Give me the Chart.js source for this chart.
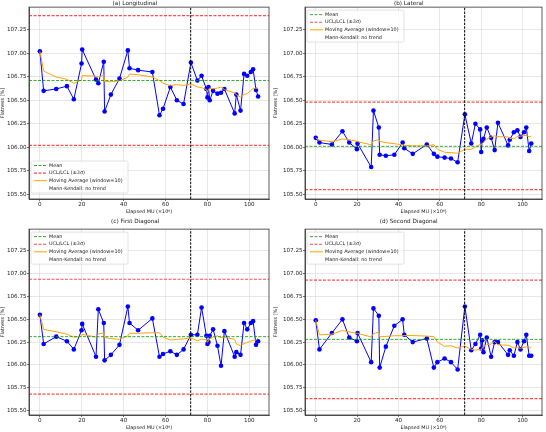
<!DOCTYPE html>
<html>
<head>
<meta charset="utf-8">
<script src="https://cdn.jsdelivr.net/npm/chart.js@4.4.0/dist/chart.umd.min.js"></script>
<style>
    html, body { margin: 0; padding: 0; background: #fff; }
    #fig { position: relative; width: 546px; height: 432px; }
    .panel { position: absolute; width: 273px; height: 216px; }
</style>
</head>
<body>
<div id="fig">
    <div class="panel" style="left:0;top:0"><canvas id="chart-a" width="273" height="216"></canvas></div>
    <div class="panel" style="left:273px;top:0"><canvas id="chart-b" width="273" height="216"></canvas></div>
    <div class="panel" style="left:0;top:216px"><canvas id="chart-c" width="273" height="216"></canvas></div>
    <div class="panel" style="left:273px;top:216px"><canvas id="chart-d" width="273" height="216"></canvas></div>
</div>
<script>
// measurement positions (shared by all four directions)
const elapsedMU = [0, 1.8, 7.8, 12.9, 16.2, 19.9, 20.2, 26.8, 27.9, 30.5,
    30.9, 33.9, 38.0, 42.0, 42.8, 46.9, 53.7, 57.1, 58.8, 62.3,
    65.4, 68.6, 72.1, 75.2, 77.2, 79.5, 80.0, 80.5, 81.1, 82.7,
    84.8, 86.5, 88.1, 93.0, 93.8, 95.8, 97.5, 99.0, 100.7, 101.8,
    103.2, 104.2];

const longitudinal = [107.02, 106.60, 106.62, 106.65, 106.51, 106.89, 107.04, 106.72, 106.68, 106.91,
    106.38, 106.56, 106.73, 107.03, 106.84, 106.82, 106.80, 106.34, 106.41, 106.64,
    106.50, 106.46, 106.90, 106.71, 106.76, 106.62, 106.53, 106.64, 106.50, 106.60,
    106.57, 106.58, 106.62, 106.36, 106.56, 106.39, 106.78, 106.76, 106.80, 106.83,
    106.61, 106.54];
const lateral = [106.10, 106.05, 106.03, 106.17, 106.05, 105.98, 106.04, 105.79, 106.39, 106.21,
    105.92, 105.91, 105.92, 106.05, 105.99, 105.93, 106.03, 105.93, 105.90, 105.89,
    105.88, 105.84, 106.35, 106.04, 106.25, 106.19, 105.95, 106.07, 106.09, 106.21,
    106.10, 105.97, 106.26, 106.02, 106.08, 106.16, 106.18, 106.11, 106.16, 106.21,
    105.96, 106.04];
const firstDiagonal = [106.55, 106.23, 106.31, 106.26, 106.17, 106.38, 106.45, 106.09, 106.61, 106.46,
    106.05, 106.11, 106.22, 106.64, 106.46, 106.38, 106.51, 106.09, 106.12, 106.15,
    106.11, 106.17, 106.33, 106.33, 106.63, 106.32, 106.23, 106.25, 106.32, 106.39,
    106.21, 105.99, 106.37, 106.09, 106.14, 106.11, 106.46, 106.39, 106.46, 106.48,
    106.22, 106.26];
const secondDiagonal = [106.49, 106.17, 106.35, 106.50, 106.30, 106.26, 106.35, 106.03, 106.62, 106.54,
    105.97, 106.20, 106.43, 106.50, 106.33, 106.25, 106.29, 105.97, 106.03, 106.07,
    106.03, 105.95, 106.64, 106.16, 106.23, 106.33, 106.18, 106.27, 106.14, 106.30,
    106.09, 106.25, 106.25, 106.11, 106.16, 106.10, 106.25, 106.17, 106.26, 106.33,
    106.10, 106.10];

const panelTitles = ['(a) Longitudinal', '(b) Lateral', '(c) First Diagonal', '(d) Second Diagonal'];
const meanValues = [106.71, 106.01, 106.31, 106.28];
const uclValues = [107.40, 106.48, 106.94, 106.93];
const lclValues = [106.02, 105.55, 105.68, 105.63];
const changePoint = 72;
const maWindow = 10;

const xTicks = [0, 20, 40, 60, 80, 100];
const yTicks = [105.50, 105.75, 106.00, 106.25, 106.50, 106.75, 107.00, 107.25];
const legendLabels = ['Mean', 'UCL/LCL (\u00b13\u03c3)', 'Moving Average (window=10)', 'Mann-Kendall: no trend'];

const xMin = -5.2, xMax = 109.4;
const yMin = 105.45, yMax = 107.49;
const fontFamily = '"DejaVu Sans", sans-serif';
const textColor = '#222';
const gridColor = '#dcdcdc';

const meanColor = 'rgba(0,150,0,0.8)';
const limitColor = 'rgba(255,0,0,0.7)';
const maColor = '#ffa500';

// rolling mean, min_periods = 1
function movingAverage(values, window) {
    return values.map((_, i) => {
        const part = values.slice(Math.max(0, i - window + 1), i + 1);
        return part.reduce((a, b) => a + b, 0) / part.length;
    });
}

const frameAndLegend = {
    id: 'frameAndLegend',
    afterDatasetsDraw(chart, args, opts) {
        const {ctx, chartArea} = chart;
        ctx.save();
        ctx.strokeStyle = '#333';
        ctx.lineWidth = 0.8;
        ctx.strokeRect(chartArea.left, chartArea.top, chartArea.width, chartArea.height);

        const w = 97, h = 32;
        const x0 = chartArea.left + 2;
        const y0 = opts.corner === 'lower' ? chartArea.bottom - h - 6 : chartArea.top + 3;
        ctx.fillStyle = 'rgba(255,255,255,0.85)';
        ctx.strokeStyle = '#d0d0d0';
        ctx.lineWidth = 0.6;
        ctx.beginPath();
        ctx.roundRect(x0, y0, w, h, 1.5);
        ctx.fill();
        ctx.stroke();

        const handles = [
            {color: meanColor, dash: [3, 1.5], width: 1},
            {color: limitColor, dash: [3, 1.5], width: 1.2},
            {color: maColor, dash: [], width: 1},
            null
        ];
        ctx.font = '4.9px ' + fontFamily;
        ctx.textBaseline = 'middle';
        legendLabels.forEach((label, i) => {
            const yy = y0 + 4.5 + i * 7.6;
            const hd = handles[i];
            if (hd) {
                ctx.beginPath();
                ctx.setLineDash(hd.dash);
                ctx.strokeStyle = hd.color;
                ctx.lineWidth = hd.width;
                ctx.moveTo(x0 + 3, yy);
                ctx.lineTo(x0 + 16, yy);
                ctx.stroke();
            }
            ctx.setLineDash([]);
            ctx.fillStyle = textColor;
            ctx.fillText(label, x0 + 18, yy);
        });
        ctx.restore();
    }
};

function hLine(value) {
    return [{x: xMin, y: value}, {x: xMax, y: value}];
}

function renderPanel(canvasId, idx, series, opts) {
    const points = elapsedMU.map((x, i) => ({x, y: series[i]}));
    const ma = movingAverage(series, maWindow).map((y, i) => ({x: elapsedMU[i], y}));

    const ctx = document.getElementById(canvasId).getContext('2d');
    return new Chart(ctx, {
        type: 'line',
        data: {
            datasets: [
                {data: points, borderColor: '#0000ff', backgroundColor: '#0000ff', borderWidth: 1,
                    pointRadius: 2.3, pointBorderWidth: 0, order: 6},
                {data: ma, borderColor: maColor, borderWidth: 1, pointRadius: 0, order: 5},
                {data: hLine(meanValues[idx]), borderColor: meanColor, borderWidth: 1,
                    borderDash: [3, 1.5], pointRadius: 0, order: 4},
                {data: hLine(uclValues[idx]), borderColor: limitColor, borderWidth: 1.2,
                    borderDash: [3, 1.5], pointRadius: 0, order: 3},
                {data: hLine(lclValues[idx]), borderColor: limitColor, borderWidth: 1.2,
                    borderDash: [3, 1.5], pointRadius: 0, order: 3},
                {data: [{x: changePoint, y: yMin}, {x: changePoint, y: yMax}], borderColor: '#000',
                    borderWidth: 1, borderDash: [2.5, 1.2], pointRadius: 0, order: 2}
            ]
        },
        options: {
            responsive: false,
            animation: false,
            layout: {padding: {top: opts.padTop, right: opts.padRight, bottom: 0, left: 0}},
            scales: {
                x: {
                    type: 'linear', min: xMin, max: xMax,
                    afterBuildTicks: s => { s.ticks = xTicks.map(v => ({value: v})); },
                    afterFit: s => { s.height = 17; },
                    grid: {color: gridColor, lineWidth: 0.7, tickLength: 2, tickColor: '#333'},
                    border: {color: '#333', width: 0.8},
                    ticks: {font: {size: 5.6, family: fontFamily}, color: textColor, padding: 0.5, maxRotation: 0},
                    title: {display: true, text: 'Elapsed MU (\u00d710\u2076)', color: textColor,
                        font: {size: 4.9, family: fontFamily}, padding: {top: 0, bottom: 1.5}}
                },
                y: {
                    type: 'linear', min: yMin, max: yMax,
                    afterBuildTicks: s => { s.ticks = yTicks.map(v => ({value: v})); },
                    afterFit: s => { s.width = opts.yWidth; },
                    grid: {color: gridColor, lineWidth: 0.7, tickLength: 2, tickColor: '#333'},
                    border: {color: '#333', width: 0.8},
                    ticks: {font: {size: 5.6, family: fontFamily}, color: textColor, padding: 0.5,
                        callback: v => v.toFixed(2)},
                    title: {display: true, text: 'Flatness [%]', color: textColor,
                        font: {size: 4.9, family: fontFamily}, padding: {top: 0, bottom: 0.5}}
                }
            },
            plugins: {
                legend: {display: false},
                tooltip: {enabled: false},
                title: {
                    display: true, text: panelTitles[idx], color: textColor,
                    font: {size: 5.7, family: fontFamily, weight: 'normal', lineHeight: 1.25},
                    padding: opts.titlePad
                },
                frameAndLegend: {corner: opts.corner}
            }
        },
        plugins: [frameAndLegend]
    });
}

renderPanel('chart-a', 0, longitudinal, {padTop: 0, padRight: 3, yWidth: 29, corner: 'lower', titlePad: {top: 0, bottom: 0}});
renderPanel('chart-b', 1, lateral, {padTop: 0, padRight: 1.5, yWidth: 32, corner: 'upper', titlePad: {top: 0, bottom: 0}});
renderPanel('chart-c', 2, firstDiagonal, {padTop: 0, padRight: 2.5, yWidth: 29, corner: 'upper', titlePad: {top: 2, bottom: 4}});
renderPanel('chart-d', 3, secondDiagonal, {padTop: 0, padRight: 1.5, yWidth: 32, corner: 'upper', titlePad: {top: 2, bottom: 4}});
</script>
</body>
</html>
